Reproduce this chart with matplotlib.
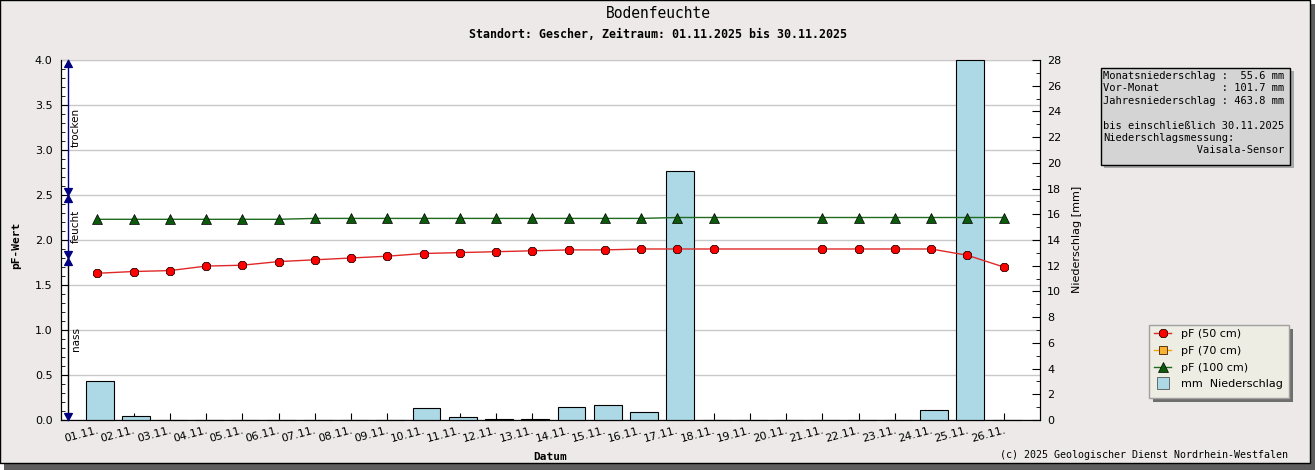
import matplotlib
matplotlib.use('Agg')
import matplotlib.pyplot as plt
import numpy as np
from matplotlib.patches import Rectangle
from matplotlib.lines import Line2D
from matplotlib.path import Path
from matplotlib.ticker import MultipleLocator, FormatStrFormatter

W, H = 1315, 470

# data
days = ['01.11.', '02.11.', '03.11.', '04.11.', '05.11.', '06.11.', '07.11.',
        '08.11.', '09.11.', '10.11.', '11.11.', '12.11.', '13.11.', '14.11.',
        '15.11.', '16.11.', '17.11.', '18.11.', '19.11.', '20.11.', '21.11.',
        '22.11.', '23.11.', '24.11.', '25.11.', '26.11.']
precip_mm = [3.0, 0.3, 0, 0, 0, 0, 0, 0, 0, 0.9, 0.2, 0.1, 0.1, 1.0,
             1.2, 0.6, 19.4, 0, 0, 0, 0, 0, 0, 0.8, 28.0, 0]
nan = np.nan
pf_50 = [1.63, 1.65, 1.66, 1.71, 1.72, 1.76, 1.78, 1.80, 1.82, 1.85, 1.86,
         1.87, 1.88, 1.89, 1.89, 1.90, 1.90, 1.90, nan, nan, 1.90, 1.90,
         1.90, 1.90, 1.83, 1.70]
pf_100 = [2.23, 2.23, 2.23, 2.23, 2.23, 2.23, 2.24, 2.24, 2.24, 2.24, 2.24,
          2.24, 2.24, 2.24, 2.24, 2.24, 2.25, 2.25, nan, nan, 2.25, 2.25,
          2.25, 2.25, 2.25, 2.25]
zone_names = ['trocken', 'feucht', 'nass']
zone_lo = [2.5, 1.8, 0.0]
zone_hi = [4.0, 2.5, 1.8]
zone_line_colors = ['#000080', '#000080', 'black']

info_lines = [
    'Monatsniederschlag :  55.6 mm',
    'Vor-Monat          : 101.7 mm',
    'Jahresniederschlag : 463.8 mm',
    '',
    'bis einschließlich 30.11.2025',
    'Niederschlagsmessung:',
    '               Vaisala-Sensor',
]

MONO = 'DejaVu Sans Mono'


def fx(px):
    return px / W


def fy(py):
    return 1 - py / H


def fig_box(fig, x0, y0, x1, y1, **kw):
    r = Rectangle((fx(x0), fy(y1)), fx(x1) - fx(x0), fy(y0) - fy(y1),
                  transform=fig.transFigure, **kw)
    fig.patches.append(r)
    return r


fig = plt.figure(figsize=(W / 100, H / 100), dpi=100, facecolor='white')

# outer frame with shadow
fig_box(fig, 4, 4, W, H, facecolor='#5E5E5E', edgecolor='none', zorder=-20)
fig_box(fig, 0, 0, 1310, 463, facecolor='#ECE9E8', edgecolor='black',
        lw=1, zorder=-10)

rect = [fx(61), fy(420), fx(1040) - fx(61), (420 - 60) / H]
ax = fig.add_axes(rect)
ax.set_facecolor('white')
ax.set_xlim(-1, 26)
ax.set_ylim(0, 4)
ax.yaxis.set_major_locator(MultipleLocator(0.5))
ax.yaxis.set_minor_locator(MultipleLocator(0.1))
ax.yaxis.set_major_formatter(FormatStrFormatter('%.1f'))
ax.yaxis.grid(True, color='#C8C8C8', lw=1)
ax.set_axisbelow(True)
ax.tick_params(axis='y', which='both', direction='in', left=True,
               right=False, labelsize=8, pad=6)
ax.tick_params(axis='y', which='major', length=5)
ax.tick_params(axis='y', which='minor', length=3)
x = np.arange(len(days))
ax.set_xticks(x)
ax.set_xticklabels(days)
ax.tick_params(axis='x', direction='in', length=5, labelsize=8, pad=4)
plt.setp(ax.get_xticklabels(), rotation=15, ha='right',
         rotation_mode='anchor')
ax.spines['top'].set_color('#C8C8C8')

# precipitation bars on the right axis
ax2 = ax.twinx()
ax2.set_ylim(0, 28)
ax2.bar(x + 0.08, precip_mm, width=0.77, color='#ADD8E6',
        edgecolor='black', lw=0.8, clip_on=False)
ax2.yaxis.set_major_locator(MultipleLocator(2))
ax2.yaxis.set_minor_locator(MultipleLocator(1))
ax2.tick_params(axis='y', which='both', direction='in', labelsize=8, pad=5)
ax2.tick_params(axis='y', which='major', length=6)
ax2.tick_params(axis='y', which='minor', length=3)
ax2.spines['top'].set_visible(False)

# pF lines on top of the bars
axl = fig.add_axes(rect, sharex=ax, sharey=ax)
axl.set_axis_off()
axl.patch.set_visible(False)

p50 = np.array(pf_50)
p100 = np.array(pf_100)
ok = ~np.isnan(p50)
axl.plot(x[ok], p50[ok], color='#E02828', lw=1, marker='8', ms=7,
         mfc='#FF0000', mec='#300000', mew=0.6)
ok = ~np.isnan(p100)
axl.plot(x[ok], p100[ok], color='#1F6B1F', lw=1, marker='^', ms=7,
         mfc='#0A5A0A', mec='black', mew=0.5)

# zone arrows at the left edge
up_head = Path([(0, 0), (-0.55, -1), (0.55, -1), (0, 0)],
               [Path.MOVETO, Path.LINETO, Path.LINETO, Path.CLOSEPOLY])
down_head = Path([(0, 0), (-0.55, 1), (0.55, 1), (0, 0)],
                 [Path.MOVETO, Path.LINETO, Path.LINETO, Path.CLOSEPOLY])
trans = axl.get_yaxis_transform()
xa = 6.7 / 979
xt = 15.0 / 979
for name, lo, hi, c in zip(zone_names, zone_lo, zone_hi, zone_line_colors):
    axl.plot([xa, xa], [lo, hi], color=c, lw=1, transform=trans,
             clip_on=False)
    axl.plot([xa], [hi], marker=up_head, ms=10, color='#000080',
             transform=trans, clip_on=False)
    axl.plot([xa], [lo], marker=down_head, ms=10, color='#000080',
             transform=trans, clip_on=False)
    axl.text(xt, (lo + hi) / 2, name, rotation=90, ha='center',
             va='center', fontsize=7.5, transform=trans)

# titles and axis labels
fig.text(fx(658), fy(14), 'Bodenfeuchte', ha='center', va='center',
         family=MONO, fontsize=10.5)
fig.text(fx(658), fy(34),
         'Standort: Gescher, Zeitraum: 01.11.2025 bis 30.11.2025',
         ha='center', va='center', family=MONO, fontsize=8.4,
         fontweight='bold')
fig.text(fx(16), fy(245), 'pF-Wert', rotation=90, ha='center', va='center',
         family=MONO, fontsize=8, fontweight='bold')
fig.text(fx(550), fy(457), 'Datum', ha='center', va='center',
         family=MONO, fontsize=8, fontweight='bold')
fig.text(fx(1077), fy(239), 'Niederschlag [mm]', rotation=90, ha='center',
         va='center', fontsize=8)
fig.text(fx(1288), fy(455), '(c) 2025 Geologischer Dienst Nordrhein-Westfalen',
         ha='right', va='center', family=MONO, fontsize=7.2)

# info box
fig_box(fig, 1104, 71, 1294, 168, facecolor='#A8A8A8', edgecolor='none',
        zorder=5)
fig_box(fig, 1101, 68, 1290, 165, facecolor='#D4D4D4', edgecolor='black',
        lw=1, zorder=6)
fig.text(fx(1103), fy(71), '\n'.join(info_lines), ha='left', va='top',
         family=MONO, fontsize=7.5, linespacing=1.3, zorder=7)

# legend box
fig_box(fig, 1153, 329, 1293, 402, facecolor='#6E6E6E', edgecolor='none',
        zorder=5)
fig_box(fig, 1149, 325, 1289, 398, facecolor='#EDEDE3', edgecolor='#A0A0A0',
        lw=1, zorder=6)
handles = [
    Line2D([], [], color='#E02828', lw=1, marker='8', ms=7,
           mfc='#FF0000', mec='#300000', mew=0.6),
    Line2D([], [], color='#F5A800', lw=1, marker='s', ms=6,
           mfc='#F9B233', mec='#402000', mew=0.6),
    Line2D([], [], color='#1F6B1F', lw=1, marker='^', ms=7,
           mfc='#0A5A0A', mec='black', mew=0.5),
    Line2D([], [], ls='none', marker='s', ms=8, mfc='#ADD8E6',
           mec='#555555', mew=0.6),
]
labels = ['pF (50 cm)', 'pF (70 cm)', 'pF (100 cm)', 'mm  Niederschlag']
leg = fig.legend(handles, labels, loc='upper left',
                 bbox_to_anchor=(fx(1152), fy(327)), frameon=False,
                 fontsize=8, labelspacing=0.6, handlelength=1.5,
                 handletextpad=0.9, borderaxespad=0, borderpad=0.2)
leg.set_zorder(8)

fig.savefig('out.png', dpi=100, facecolor=fig.get_facecolor())
